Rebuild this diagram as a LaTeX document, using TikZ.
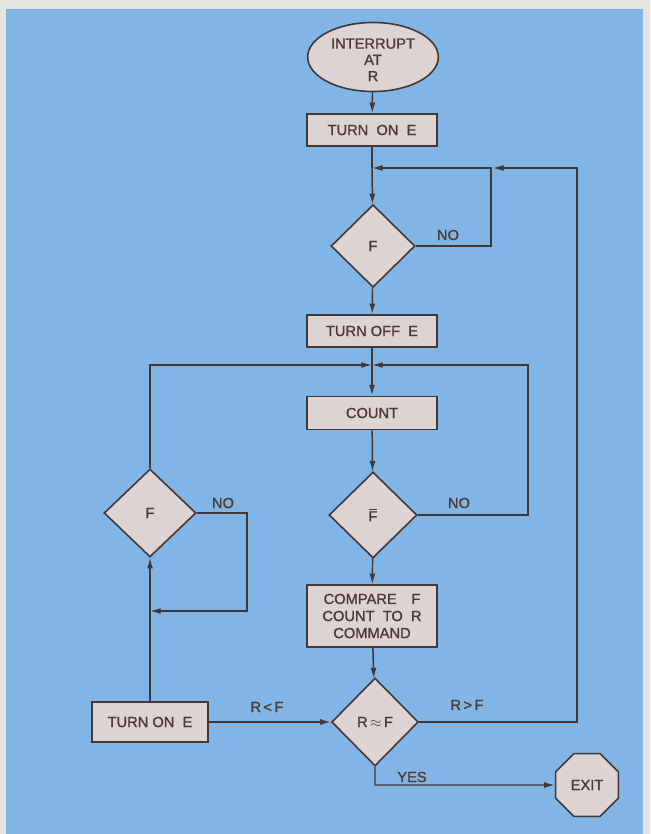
\documentclass[tikz,border=0pt]{standalone}
\usepackage{fontspec}
\setmainfont{Liberation Sans}[AutoFakeBold=1.2]
\usetikzlibrary{shapes.geometric,arrows.meta}
\definecolor{bgblue}{RGB}{128,181,230}
\definecolor{edgegray}{RGB}{228,227,222}
\definecolor{boxfill}{RGB}{220,211,210}
\definecolor{linec}{RGB}{66,56,56}
\definecolor{textc}{RGB}{78,58,52}
\newcommand{\lblfont}{\fontsize{11}{11}\selectfont\bfseries}
\begin{document}
\begin{tikzpicture}[x=0.75pt,y=-0.75pt,
  nodebase/.style={draw=linec, fill=boxfill, line width=1.2pt, text=textc, font=\lblfont, inner sep=1pt, align=center},
  stepbox/.style={nodebase, rectangle, minimum width=97.5pt, minimum height=24pt},
  dia/.style={nodebase, diamond, inner sep=0pt},
  conn/.style={draw=linec, line width=1.1pt},
  arr/.style={conn, -{Latex[length=8pt,width=4.5pt]}},
  lab/.style={text=textc, font=\lblfont, inner sep=0pt}]
\useasboundingbox (0,0) rectangle (650,834);
\fill[edgegray] (0,0) rectangle (650,834);
\fill[bgblue] (6,9) rectangle (643,834);

% nodes
\node[nodebase, ellipse, minimum width=98pt, minimum height=49pt, inner sep=0pt] (int) at (373,57)
  {\raisebox{-3.5pt}[\height][\depth]{\fontsize{11}{12.2}\selectfont\bfseries
   \begin{tabular}{@{}c@{}}INTERRUPT\\AT\\R\end{tabular}}};
\node[stepbox] (on1) at (372,130) {TURN\ \ ON\ \ E};
\node[dia, minimum width=63pt, minimum height=62pt] (d1) at (373,246) {F};
\node[stepbox] (off) at (372,331) {TURN\ OFF\ \ E};
\node[stepbox, minimum height=25pt] (count) at (372,413) {COUNT};
\node[dia, minimum width=66pt, minimum height=64.5pt] (d2) at (373,515) {$\overline{\mbox{\lblfont F}}$};
\node[stepbox, minimum height=46.5pt, font=\fontsize{11}{12.8}\selectfont\bfseries] (cmp) at (372,616)
  {COMPARE\quad F\\COUNT\ \ TO\ \ R\\COMMAND};
\node[dia, minimum width=65pt, minimum height=66pt] (d3) at (375,722) {R\,$\approx$\,F};
\node[nodebase, regular polygon, regular polygon sides=8, minimum size=51pt, inner sep=0pt] (exit) at (587,785) {EXIT};
\node[dia, minimum width=69pt, minimum height=66pt] (d4) at (150,513) {F};
\node[stepbox, minimum width=87pt, minimum height=30pt] (on2) at (150,722) {TURN ON\ \ E};

% junctions and corners
\coordinate (j1) at (372,168);
\coordinate (j2) at (372,365);
\coordinate (k1) at (491,246);
\coordinate (k1t) at (491,168);
\coordinate (k1e) at (493,168);
\coordinate (r1) at (577,722);
\coordinate (r2) at (577,168);
\coordinate (m1) at (528,515);
\coordinate (m2) at (528,365);
\coordinate (l1) at (150,365);
\coordinate (n1) at (247,513);
\coordinate (n2) at (247,611);
\coordinate (n3) at (150,611);
\coordinate (y1) at (375,785);

% connectors
\draw[arr] (int) -- (on1);
\draw[conn] (on1) -- (j1);
\draw[arr] (j1) -- (d1);
\draw[arr] (d1.east) -- (k1) -- (k1t) -- (j1);
\draw[arr] (d3.east) -- (r1) -- (r2) -- (k1e);
\draw[arr] (d1) -- (off);
\draw[conn] (off) -- (j2);
\draw[arr] (j2) -- (count);
\draw[arr] (count) -- (d2);
\draw[arr] (d2.east) -- (m1) -- (m2) -- (j2);
\draw[arr] (d4.north) -- (l1) -- (j2);
\draw[arr] (d2) -- (cmp);
\draw[arr] (cmp) -- (d3);
\draw[arr] (on2) -- (d3.west);
\draw[arr] (on2) -- (d4);
\draw[arr] (d4.east) -- (n1) -- (n2) -- (n3);
\draw[arr] (d3.south) -- (y1) -- (exit.west);

% labels
\node[lab] (no1) at (448,235) {NO};
\node[lab] (no2) at (459,503) {NO};
\node[lab] (no3) at (223,503) {NO};
\node[lab] (rlf) at (267,707) {R\,<\,F};
\node[lab] (rgf) at (467,705) {R\,>\,F};
\node[lab] (yes) at (412,777) {YES};
\end{tikzpicture}
\end{document}
